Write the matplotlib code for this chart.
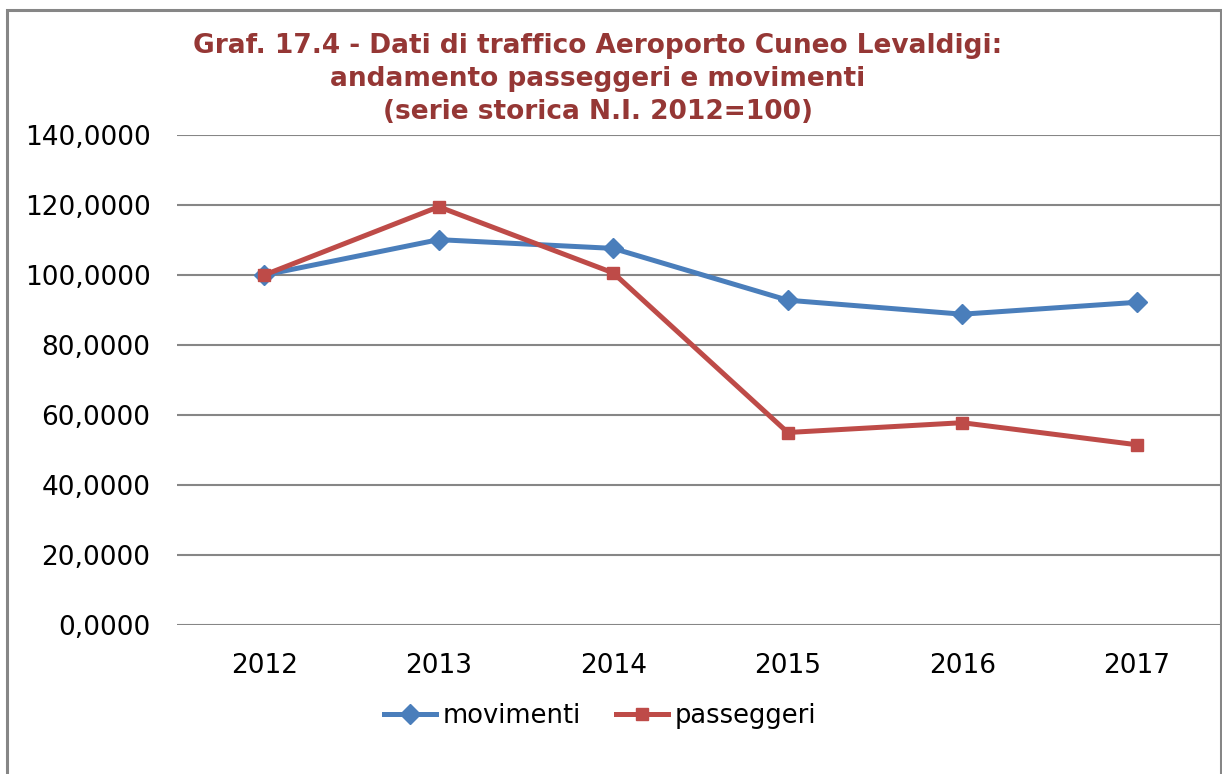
import matplotlib.pyplot as plt
from matplotlib.ticker import FuncFormatter
from matplotlib.patches import Rectangle

plt.rcParams['font.family'] = ['DejaVu Sans']

# data (N.I. 2012=100)
years = ["2012", "2013", "2014", "2015", "2016", "2017"]
movimenti = [100.0, 110.1, 107.6, 92.8, 88.8, 92.2]
passeggeri = [100.0, 119.5, 100.6, 55.0, 57.8, 51.5]

W, H = 1222, 774
fig = plt.figure(figsize=(W / 100, H / 100), dpi=100)
fig.patch.set_facecolor("white")

# outer chart frame
fig.patches.append(Rectangle((7 / W, -0.05), (1221 - 7) / W, (H - 10) / H + 0.05,
                             transform=fig.transFigure, fill=False,
                             edgecolor="#868686", linewidth=2.2))

ax = fig.add_axes([177 / W, (H - 625) / H, 1047 / W, 490 / H])
x = range(len(years))

ax.plot(x, movimenti, color="#4A7EBB", lw=3.6, marker="D", ms=10.5,
        label="movimenti", zorder=3)
ax.plot(x, passeggeri, color="#BE4B48", lw=3.6, marker="s", ms=8,
        label="passeggeri", zorder=3)

ax.set_xlim(-0.5, len(years) - 0.5)
ax.set_ylim(0, 140)
ax.set_yticks(range(0, 141, 20))
ax.yaxis.set_major_formatter(FuncFormatter(lambda v, p: f"{v:.4f}".replace(".", ",")))
ax.set_xticks(list(x))
ax.set_xticklabels(years)
ax.tick_params(axis="both", length=0, labelsize=19, colors="black")
ax.tick_params(axis="y", pad=19)
ax.tick_params(axis="x", pad=20)
ax.grid(axis="y", color="#868686", lw=1.5)
ax.set_axisbelow(True)
for s in ax.spines.values():
    s.set_visible(False)

fig.text(598 / W, 1 - 79 / H,
         "Graf. 17.4 - Dati di traffico Aeroporto Cuneo Levaldigi:\n"
         "andamento passeggeri e movimenti\n(serie storica N.I. 2012=100)",
         ha="center", va="center", color="#953735", fontsize=19,
         fontweight="bold", linespacing=1.36)

fig.legend(loc="center", bbox_to_anchor=(600 / W, 1 - 716 / H), ncol=2,
           frameon=False, fontsize=18.5, handlelength=2.0, handletextpad=0.25,
           columnspacing=1.4)

fig.savefig("out.png", dpi=100)
